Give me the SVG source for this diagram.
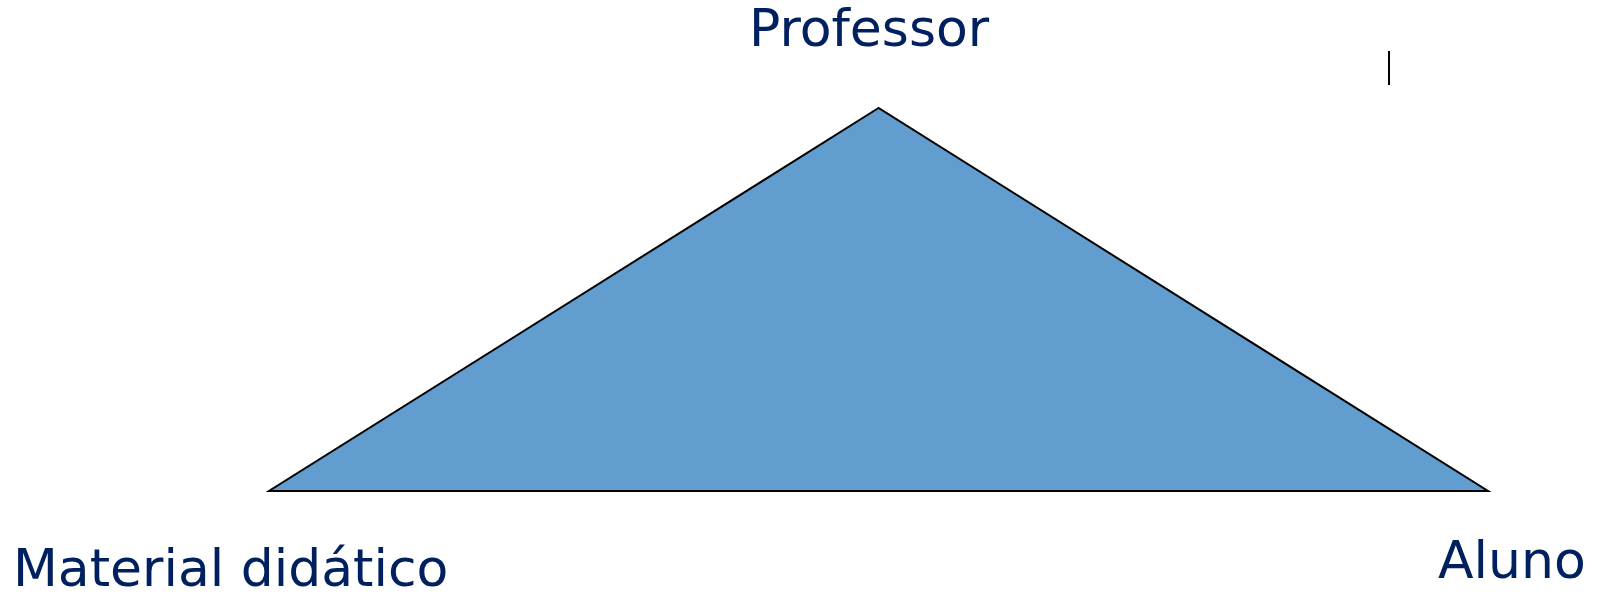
<svg xmlns="http://www.w3.org/2000/svg" width="1600" height="595" viewBox="0 0 1600 595">
<style>
.lbl{font-family:"DejaVu Sans","Verdana",sans-serif;font-size:52px;fill:#002060}
</style>
<rect width="1600" height="595" fill="#ffffff"/>
<g id="triangle">
<polygon points="878.5,108 269,491 1488,491" fill="#629dd0" stroke="#000000" stroke-width="2" stroke-linejoin="miter"/>
</g>
<g id="professor"><text class="lbl" x="749" y="46">Professor</text></g>
<g id="material"><text class="lbl" x="13" y="586">Material didático</text></g>
<g id="aluno"><text class="lbl" x="1438" y="578">Aluno</text></g>
<g id="connectors">
<line x1="1389" y1="51" x2="1389" y2="85" stroke="#000000" stroke-width="2"/>
</g>
</svg>
